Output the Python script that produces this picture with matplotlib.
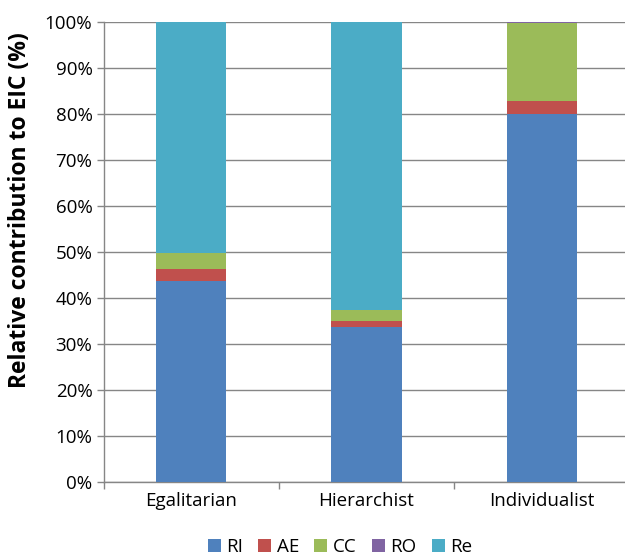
import matplotlib.pyplot as plt
import numpy as np
from matplotlib.ticker import PercentFormatter, FixedLocator

plt.rcParams['font.family'] = ['Open Sans', 'DejaVu Sans']

perspectives = ['Egalitarian', 'Hierarchist', 'Individualist']
series = ['RI', 'AE', 'CC', 'RO', 'Re']
RI = [43.8, 33.8, 80.0]
AE = [2.5, 1.1, 2.9]
CC = [3.4, 2.6, 16.8]
RO = [0.0, 0.0, 0.3]
Re = [50.3, 62.5, 0.0]
colors = ['#4f81bd', '#c0504d', '#9bbb59', '#8064a2', '#4bacc6']

fig = plt.figure(figsize=(6.25, 5.58), dpi=100)
ax = fig.add_axes([103.5 / 625, 1 - 482 / 558, 526 / 625, 460 / 558])

x = np.arange(len(perspectives))
bottom = np.zeros(len(perspectives))
for name, vals, c in zip(series, [RI, AE, CC, RO, Re], colors):
    ax.bar(x, vals, 0.4, bottom=bottom, color=c, label=name, zorder=3)
    bottom += np.array(vals)

ax.set_xlim(-0.5, 2.5)
ax.set_ylim(0, 100)
ax.set_yticks(np.arange(0, 101, 10))
ax.yaxis.set_major_formatter(PercentFormatter(decimals=0))
ax.grid(axis='y', color='#868686', linewidth=1.0, zorder=0)

# category labels centred, tick marks between categories
ax.set_xticks(x)
ax.set_xticklabels(perspectives, fontsize=13.5)
ax.tick_params(axis='x', which='major', length=0, pad=7)
ax.xaxis.set_minor_locator(FixedLocator([-0.5, 0.5, 1.5, 2.5]))
ax.tick_params(axis='x', which='minor', length=5, color='#868686', width=1)
ax.tick_params(axis='y', length=5, color='#868686', width=1, labelsize=13.5, pad=3)

for s in ['top', 'right']:
    ax.spines[s].set_visible(False)
for s in ['left', 'bottom']:
    ax.spines[s].set_color('#868686')
    ax.spines[s].set_linewidth(1)

ax.set_ylabel('Relative contribution to EIC (%)', fontsize=16.5, fontweight='bold',
              va='center')
ax.yaxis.set_label_coords(-0.159, 0.591)

fig.legend(*ax.get_legend_handles_labels(), loc='center',
           bbox_to_anchor=(340 / 625, 1 - 547 / 558), ncol=5, frameon=False,
           fontsize=13.5, handlelength=0.7, handleheight=0.7, handletextpad=0.3,
           columnspacing=0.8, borderpad=0)

fig.savefig('out.png', dpi=100)
